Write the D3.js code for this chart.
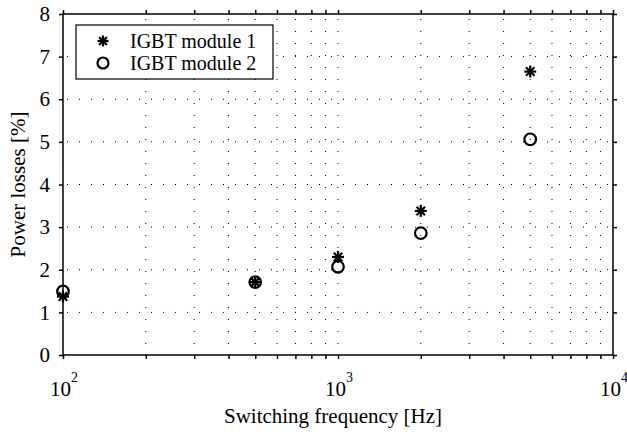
<!DOCTYPE html>
<html lang="en">
<head>
  <meta charset="UTF-8">
  <title>Power losses vs switching frequency</title>
  <script src="https://d3js.org/d3.v7.min.js"></script>
  <style>
    body { margin: 0; background: #fff; }
    svg text { font-family: "Liberation Serif", "Times New Roman", serif; fill: #000; }
  </style>
</head>
<body>
  <svg width="627" height="434"></svg>
  <script>
    const freqs = [100, 500, 1000, 2000, 5000];
    const module1 = [1.37, 1.71, 2.3, 3.38, 6.65];
    const module2 = [1.49, 1.71, 2.07, 2.86, 5.06];
    const seriesNames = ["IGBT module 1", "IGBT module 2"];
    const yTicks = [0, 1, 2, 3, 4, 5, 6, 7, 8];
    const xDecades = [2, 3, 4];

    const margin = { top: 14, right: 14, bottom: 79, left: 63 };
    const width = 627 - margin.left - margin.right;
    const height = 434 - margin.top - margin.bottom;
    const fs = 21;

    const svg = d3.select("svg")
      .append("g")
      .attr("transform", `translate(${margin.left},${margin.top})`);

    const x = d3.scaleLog().domain([100, 10000]).range([0, width]);
    const y = d3.scaleLinear().domain([0, 8]).range([height, 0]);

    // minor + major positions on the log axis
    const xAll = [];
    for (let e = 2; e < 4; e++) {
      for (let m = 1; m < 10; m++) xAll.push(m * Math.pow(10, e));
    }
    xAll.push(10000);

    // Grid (dotted)
    svg.append("g")
      .selectAll("line")
      .data(xAll.slice(1, -1))
      .join("line")
      .attr("x1", d => x(d)).attr("x2", d => x(d))
      .attr("y1", 0).attr("y2", height)
      .attr("stroke", "#000")
      .attr("stroke-width", 1)
      .attr("stroke-dasharray", "1,11")
      .attr("stroke-dashoffset", -5);

    svg.append("g")
      .selectAll("line")
      .data(yTicks.slice(1, -1))
      .join("line")
      .attr("x1", 0).attr("x2", width)
      .attr("y1", d => y(d)).attr("y2", d => y(d))
      .attr("stroke", "#000")
      .attr("stroke-width", 1)
      .attr("stroke-dasharray", "1,11")
      .attr("stroke-dashoffset", -4);

    // Frame
    svg.append("rect")
      .attr("width", width).attr("height", height)
      .attr("fill", "none")
      .attr("stroke", "#000")
      .attr("stroke-width", 1.5);

    // Y axes (left + right), outward ticks
    svg.append("g")
      .call(d3.axisLeft(y).tickValues(yTicks).tickSize(4).tickPadding(9))
      .call(g => g.select(".domain").remove())
      .call(g => g.selectAll("line").attr("stroke-width", 1.5))
      .call(g => g.selectAll("text").attr("font-size", fs));

    svg.append("g")
      .attr("transform", `translate(${width},0)`)
      .call(d3.axisRight(y).tickValues(yTicks).tickSize(4).tickFormat(""))
      .call(g => g.select(".domain").remove())
      .call(g => g.selectAll("line").attr("stroke-width", 1.5));

    // X axes (bottom + top)
    svg.append("g")
      .attr("transform", `translate(0,${height})`)
      .call(d3.axisBottom(x).tickValues(xAll).tickSize(4).tickFormat(""))
      .call(g => g.select(".domain").remove())
      .call(g => g.selectAll("line").attr("stroke-width", 1.5));

    svg.append("g")
      .call(d3.axisTop(x).tickValues(xAll).tickSize(4).tickFormat(""))
      .call(g => g.select(".domain").remove())
      .call(g => g.selectAll("line").attr("stroke-width", 1.5));

    // Decade labels 10^n
    const xl = svg.append("g")
      .selectAll("text")
      .data(xDecades)
      .join("text")
      .attr("x", d => x(Math.pow(10, d)) - 13)
      .attr("y", height + 41)
      .attr("font-size", fs);
    xl.append("tspan").text("10");
    xl.append("tspan").attr("dy", -14).attr("font-size", 14).text(d => d);

    // Axis titles
    svg.append("text")
      .attr("x", width / 2 - 5)
      .attr("y", height + 68)
      .attr("text-anchor", "middle")
      .attr("font-size", fs)
      .text("Switching frequency [Hz]");

    svg.append("text")
      .attr("transform", `translate(-38,${height / 2}) rotate(-90)`)
      .attr("text-anchor", "middle")
      .attr("font-size", fs)
      .text("Power losses [%]");

    // Markers
    function star(sel, cx, cy, r) {
      const g = sel.append("g").attr("transform", `translate(${cx},${cy})`);
      [0, 45, 90, 135].forEach(a => {
        const t = a * Math.PI / 180;
        g.append("line")
          .attr("x1", -r * Math.cos(t)).attr("y1", -r * Math.sin(t))
          .attr("x2", r * Math.cos(t)).attr("y2", r * Math.sin(t))
          .attr("stroke", "#000").attr("stroke-width", 2.2);
      });
    }

    const pts = svg.append("g");
    freqs.forEach((f, i) => star(pts, x(f), y(module1[i]), 6));
    pts.selectAll("circle")
      .data(freqs)
      .join("circle")
      .attr("cx", d => x(d))
      .attr("cy", (d, i) => y(module2[i]))
      .attr("r", 5.8)
      .attr("fill", "none")
      .attr("stroke", "#000")
      .attr("stroke-width", 2.2);

    // Legend
    const lg = svg.append("g").attr("transform", "translate(13,11)");
    lg.append("rect")
      .attr("width", 197).attr("height", 54)
      .attr("fill", "#fff").attr("stroke", "#000").attr("stroke-width", 1.2);
    star(lg, 27, 16, 5.5);
    lg.append("circle").attr("cx", 27).attr("cy", 38).attr("r", 5.5)
      .attr("fill", "none").attr("stroke", "#000").attr("stroke-width", 2.2);
    lg.selectAll("text.lbl")
      .data(seriesNames)
      .join("text")
      .attr("class", "lbl")
      .attr("x", 54)
      .attr("y", (d, i) => 23 + i * 22)
      .attr("font-size", 20)
      .text(d => d);
  </script>
</body>
</html>
